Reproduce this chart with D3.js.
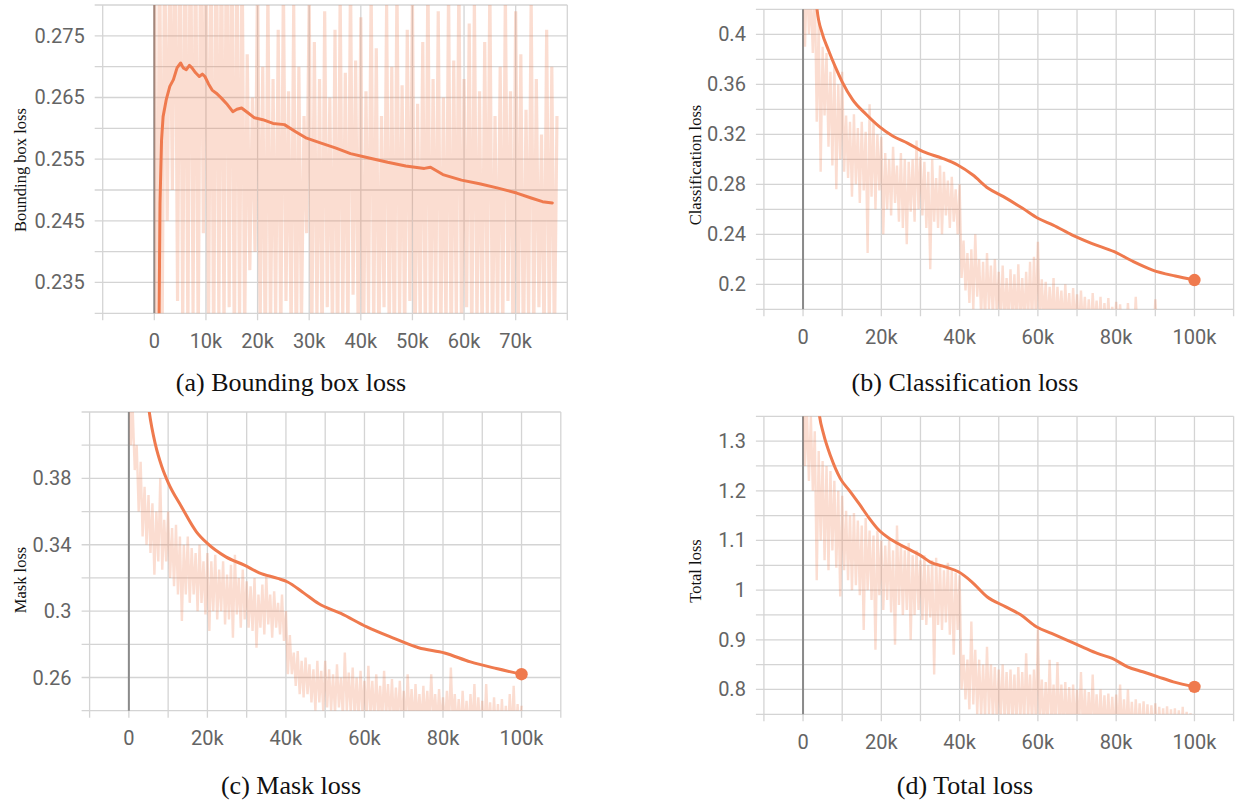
<!DOCTYPE html>
<html>
<head>
<meta charset="utf-8">
<script src="https://cdn.jsdelivr.net/npm/d3@7"></script>
<style>
  html, body { margin: 0; background: #ffffff; }
  svg { display: block; }
</style>
</head>
<body>
<svg id="fig" width="1241" height="803"></svg>
<script>
// ---------------------------------------------------------------
// Training curves: raw values are logged every 500 steps,
// smoothed curves are given as (step, value) pairs.
// ---------------------------------------------------------------

// (a) Bounding box loss
const bboxRawStep = 500;
const bboxRaw = [
  0.300,0.200, 0.295,0.225, 0.292,0.245, 0.288,0.250, 0.300,0.232, 0.296,0.228, 0.298,0.226, 0.302,0.230, 0.294,0.224, 0.297,0.243,
  0.299,0.227, 0.293,0.221, 0.300,0.229, 0.296,0.226, 0.301,0.231, 0.298,0.222, 0.295,0.228, 0.290,0.226, 0.272,0.237, 0.265,0.240,
  0.285,0.228, 0.270,0.222, 0.283,0.226, 0.268,0.229, 0.276,0.224, 0.284,0.232, 0.266,0.226, 0.280,0.221, 0.270,0.228, 0.262,0.243,
  0.281,0.225, 0.274,0.229, 0.268,0.224, 0.279,0.231, 0.265,0.227, 0.276,0.222, 0.282,0.229, 0.269,0.225, 0.285,0.233, 0.271,0.226,
  0.278,0.221, 0.266,0.230, 0.283,0.227, 0.273,0.224, 0.262,0.231, 0.280,0.226, 0.270,0.222, 0.284,0.229, 0.267,0.225, 0.276,0.232,
  0.281,0.224, 0.264,0.228, 0.274,0.226, 0.286,0.223, 0.268,0.230, 0.279,0.225, 0.265,0.227, 0.283,0.222, 0.271,0.229, 0.285,0.226,
  0.268,0.231, 0.277,0.224, 0.281,0.228, 0.266,0.225, 0.274,0.230, 0.284,0.223, 0.262,0.228, 0.270,0.226, 0.282,0.232, 0.266,0.224,
  0.279,0.227, 0.272,0.222, 0.263,0.229, 0.281,0.226, 0.268,0.231, 0.259,0.225, 0.276,0.228, 0.270,0.224, 0.262
];
const bboxSmoothSteps = [800, 1000, 1100, 1400, 1700, 2300, 3000, 3700, 4400, 5100, 5600, 6200, 6800, 7300, 8000, 8700, 9300, 9800,
  10500, 11200, 12000, 13000, 14000, 15200, 16000, 16900, 18000, 19400, 21000, 23000, 25200, 27300, 29500, 32300, 35200, 38000,
  41600, 45200, 48700, 52300, 53500, 55900, 59500, 63000, 66600, 70200, 73000, 75200, 77100];
const bboxSmooth = [0.215, 0.2376, 0.2479, 0.2581, 0.2619, 0.2646, 0.2668, 0.2679, 0.2698, 0.2706, 0.2698, 0.2695, 0.2702, 0.2698,
  0.2690, 0.2684, 0.2688, 0.2684, 0.2672, 0.2662, 0.2657, 0.2649, 0.2640, 0.2627, 0.2631, 0.2633, 0.2626, 0.2617, 0.2614, 0.2608,
  0.2606, 0.2595, 0.2584, 0.2576, 0.2568, 0.2559, 0.2552, 0.2545, 0.2539, 0.2535, 0.2537, 0.2525, 0.2516, 0.2510, 0.2503, 0.2495,
  0.2487, 0.2481, 0.2479];

// (b) Classification loss
const clsRawStep = 500;
const clsRaw = [
  0.620,0.390, 0.450,0.400, 0.430,0.385, 0.440,0.330, 0.410,0.290, 0.390,0.335, 0.385,0.310, 0.370,0.295, 0.375,0.276, 0.360,0.300,
  0.370,0.290, 0.335,0.285, 0.330,0.270, 0.336,0.280, 0.325,0.265, 0.330,0.275, 0.322,0.225, 0.344,0.270, 0.330,0.260, 0.320,0.275,
  0.318,0.240, 0.305,0.260, 0.300,0.255, 0.310,0.265, 0.295,0.250, 0.305,0.245, 0.300,0.232, 0.298,0.258, 0.300,0.250, 0.315,0.260,
  0.302,0.255, 0.298,0.245, 0.290,0.212, 0.300,0.250, 0.285,0.245, 0.295,0.240, 0.290,0.255, 0.283,0.245, 0.286,0.250, 0.276,0.240,
  0.280,0.205, 0.235,0.195, 0.225,0.185, 0.228,0.180, 0.240,0.190, 0.220,0.175, 0.218,0.170, 0.225,0.180, 0.215,0.172, 0.220,0.175,
  0.210,0.170, 0.215,0.168, 0.205,0.170, 0.212,0.172, 0.208,0.165, 0.216,0.170, 0.205,0.168, 0.210,0.172, 0.218,0.165, 0.222,0.170,
  0.234,0.168, 0.204,0.170, 0.202,0.165, 0.198,0.168, 0.205,0.162, 0.198,0.170, 0.195,0.165, 0.200,0.168, 0.193,0.162, 0.197,0.166,
  0.192,0.160, 0.195,0.165, 0.190,0.162, 0.188,0.160, 0.193,0.165, 0.187,0.160, 0.190,0.158, 0.185,0.162, 0.189,0.160, 0.182,0.158,
  0.186,0.160, 0.184,0.158, 0.178,0.155, 0.185,0.160, 0.176,0.155, 0.190,0.158, 0.175,0.155, 0.174,0.152, 0.177,0.155, 0.172,0.150,
  0.188,0.155, 0.170,0.150, 0.172,0.152, 0.168,0.150, 0.170,0.150, 0.166,0.148, 0.170,0.150, 0.167,0.148, 0.169,0.150, 0.165,0.148,
  0.168
];
const clsSmoothSteps = [3000, 3600, 4900, 6400, 8300, 10000, 12700, 16100, 19500, 22900, 26800, 30700, 35600, 39500, 43400, 47300,
  51200, 56100, 60000, 63900, 68800, 73700, 79500, 84400, 89300, 95100, 100000];
const clsSmooth = [0.440, 0.4194, 0.4008, 0.3880, 0.3735, 0.3620, 0.3475, 0.3360, 0.3261, 0.3186, 0.3128, 0.3061, 0.3008, 0.2954,
  0.2874, 0.2768, 0.2701, 0.2608, 0.2528, 0.2474, 0.2394, 0.2328, 0.2261, 0.2181, 0.2114, 0.2066, 0.2034];

// (c) Mask loss
const maskRawStep = 500;
const maskRaw = [
  0.550,0.400, 0.420,0.385, 0.400,0.360, 0.390,0.345, 0.375,0.340, 0.370,0.335, 0.365,0.322, 0.360,0.330, 0.380,0.325, 0.355,0.330,
  0.360,0.320, 0.350,0.315, 0.352,0.310, 0.345,0.294, 0.340,0.310, 0.345,0.305, 0.338,0.310, 0.335,0.300, 0.340,0.305, 0.330,0.298,
  0.335,0.288, 0.330,0.300, 0.334,0.295, 0.325,0.300, 0.330,0.292, 0.322,0.295, 0.328,0.284, 0.334,0.298, 0.320,0.290, 0.325,0.295,
  0.318,0.290, 0.315,0.288, 0.320,0.278, 0.310,0.290, 0.316,0.286, 0.321,0.292, 0.310,0.284, 0.312,0.290, 0.305,0.286, 0.310,0.282,
  0.300,0.262, 0.2856,0.262, 0.275,0.255, 0.276,0.250, 0.270,0.248, 0.272,0.250, 0.268,0.245, 0.265,0.240, 0.270,0.245, 0.264,0.240,
  0.270,0.242, 0.265,0.240, 0.262,0.238, 0.268,0.242, 0.260,0.236, 0.275,0.240, 0.263,0.238, 0.266,0.236, 0.260,0.235, 0.264,0.238,
  0.258,0.235, 0.267,0.236, 0.258,0.234, 0.262,0.236, 0.255,0.232, 0.264,0.236, 0.256,0.234, 0.259,0.232, 0.254,0.233, 0.258,0.232,
  0.252,0.230, 0.262,0.233, 0.253,0.230, 0.256,0.232, 0.250,0.230, 0.255,0.232, 0.252,0.230, 0.262,0.233, 0.250,0.230, 0.253,0.232,
  0.248,0.230, 0.252,0.228, 0.266,0.232, 0.250,0.228, 0.247,0.226, 0.252,0.228, 0.246,0.226, 0.250,0.228, 0.256,0.226, 0.248,0.225,
  0.246,0.224, 0.256,0.226, 0.245,0.224, 0.248,0.225, 0.244,0.222, 0.247,0.224, 0.243,0.222, 0.250,0.224, 0.255,0.222, 0.244,0.222,
  0.243
];
const maskSmoothSteps = [4000, 5200, 6800, 8400, 10100, 13400, 17200, 20000, 24700, 29400, 33200, 37900, 40300, 44500, 48300, 54000,
  60600, 67200, 73800, 80400, 87000, 93600, 100000];
const maskSmooth = [0.445, 0.420, 0.4000, 0.3870, 0.3770, 0.3629, 0.3478, 0.3408, 0.3327, 0.3277, 0.3231, 0.3197, 0.3177, 0.3110,
  0.3046, 0.2986, 0.2905, 0.2839, 0.2779, 0.2748, 0.2694, 0.2654, 0.2620];

// (d) Total loss
const totalRawStep = 500;
const totalRaw = [
  1.600,1.250, 1.360,1.220, 1.350,1.200, 1.320,1.020, 1.280,1.100, 1.260,1.060, 1.250,1.040, 1.240,1.080, 1.220,1.045, 1.200,0.987,
  1.190,1.040, 1.160,1.020, 1.150,1.000, 1.155,1.010, 1.140,0.990, 1.130,0.920, 1.145,1.000, 1.120,0.980, 1.110,0.880, 1.120,0.990,
  1.100,0.960, 1.090,0.980, 1.100,0.955, 1.080,0.890, 1.130,0.970, 1.090,0.950, 1.080,0.960, 1.095,0.900, 1.070,0.950, 1.080,0.960,
  1.060,0.940, 1.070,0.930, 1.050,0.945, 1.060,0.830, 1.065,0.930, 1.050,0.920, 1.040,0.935, 1.055,0.910, 1.040,0.870, 1.035,0.920,
  1.030,0.800, 0.870,0.780, 0.860,0.760, 0.937,0.770, 0.880,0.750, 0.860,0.745, 0.850,0.740, 0.886,0.750, 0.850,0.740, 0.845,0.735,
  0.840,0.740, 0.850,0.735, 0.835,0.730, 0.840,0.735, 0.830,0.730, 0.845,0.735, 0.835,0.730, 0.873,0.740, 0.830,0.730, 0.840,0.728,
  0.920,0.730, 0.820,0.725, 0.815,0.720, 0.860,0.725, 0.810,0.720, 0.855,0.722, 0.810,0.718, 0.815,0.720, 0.805,0.715, 0.810,0.720,
  0.800,0.715, 0.835,0.718, 0.800,0.712, 0.795,0.715, 0.830,0.712, 0.790,0.710, 0.800,0.712, 0.788,0.708, 0.792,0.710, 0.785,0.706,
  0.790,0.708, 0.810,0.705, 0.780,0.704, 0.800,0.705, 0.775,0.700, 0.780,0.702, 0.772,0.700, 0.776,0.700, 0.770,0.698, 0.768,0.696,
  0.772,0.695, 0.765,0.694, 0.762,0.692, 0.766,0.693, 0.760,0.690, 0.762,0.690, 0.758,0.688, 0.765,0.688, 0.755,0.686, 0.752,0.685,
  0.750
];
const totalSmoothSteps = [3500, 4200, 5200, 7100, 9500, 12000, 14400, 16800, 19300, 22700, 26600, 29900, 32400, 36300, 39700, 43100,
  47000, 51800, 55700, 59600, 63500, 67400, 71300, 75200, 79000, 82900, 86800, 90700, 94600, 100000];
const totalSmooth = [1.400, 1.351, 1.3155, 1.2684, 1.2250, 1.1990, 1.1730, 1.1460, 1.1215, 1.1007, 1.0840, 1.0705, 1.0570, 1.0469,
  1.0369, 1.0168, 0.9866, 0.9664, 0.9497, 0.9262, 0.9128, 0.8994, 0.8860, 0.8725, 0.8624, 0.8457, 0.8356, 0.8255, 0.8154, 0.8053];

// Axis ticks: grid lines and the subset that carries labels
const xGridA = [-10000, 0, 10000, 20000, 30000, 40000, 50000, 60000, 70000, 80000];
const xLabelsA = [0, 10000, 20000, 30000, 40000, 50000, 60000, 70000];
const xGrid100k = [-10000, 0, 10000, 20000, 30000, 40000, 50000, 60000, 70000, 80000, 90000, 100000, 110000];
const xLabels100k = [0, 20000, 40000, 60000, 80000, 100000];

const yGridA = [0.23, 0.235, 0.24, 0.245, 0.25, 0.255, 0.26, 0.265, 0.27, 0.275, 0.28];
const yLabelsA = [0.235, 0.245, 0.255, 0.265, 0.275];
const yGridB = [0.18, 0.2, 0.22, 0.24, 0.26, 0.28, 0.3, 0.32, 0.34, 0.36, 0.38, 0.4, 0.42];
const yLabelsB = [0.2, 0.24, 0.28, 0.32, 0.36, 0.4];
const yGridC = [0.24, 0.26, 0.28, 0.3, 0.32, 0.34, 0.36, 0.38, 0.4, 0.42];
const yLabelsC = [0.26, 0.3, 0.34, 0.38];
const yGridD = [0.75, 0.8, 0.85, 0.9, 0.95, 1, 1.05, 1.1, 1.15, 1.2, 1.25, 1.3, 1.35];
const yLabelsD = [0.8, 0.9, 1, 1.1, 1.2, 1.3];

// ---------------------------------------------------------------
const ORANGE = "#ef7a4e";
const GRID = "#d4d4d4";
const TICK_TEXT = "#646464";

const panels = [
  { id: "a", raw: bboxRaw, rawStep: bboxRawStep, sSteps: bboxSmoothSteps, sVals: bboxSmooth,
    xGrid: xGridA, xLabels: xLabelsA, yGrid: yGridA, yLabels: yLabelsA,
    xDom: [-10000, 80000], xR: [102.7, 567.3], yDom: [0.23, 0.28], yR: [313.3, 5],
    title: "Bounding box loss", titleX: 20, titleY: 170, rawWidth: 3.2,
    caption: "(a) Bounding box loss", capX: 291, capY: 391, dot: false, curve: d3.curveLinear },
  { id: "b", raw: clsRaw, rawStep: clsRawStep, sSteps: clsSmoothSteps, sVals: clsSmooth,
    xGrid: xGrid100k, xLabels: xLabels100k, yGrid: yGridB, yLabels: yLabelsB,
    xDom: [-10000, 110000], xR: [763.9, 1233.6], yDom: [0.18, 0.42], yR: [309.3, 9.3],
    title: "Classification loss", titleX: 695, titleY: 165, rawWidth: 2.4,
    caption: "(b) Classification loss", capX: 965, capY: 391, dot: true, curve: d3.curveMonotoneX },
  { id: "c", raw: maskRaw, rawStep: maskRawStep, sSteps: maskSmoothSteps, sVals: maskSmooth,
    xGrid: xGrid100k, xLabels: xLabels100k, yGrid: yGridC, yLabels: yLabelsC,
    xDom: [-10000, 110000], xR: [89.6, 560.8], yDom: [0.24, 0.42], yR: [710.7, 412],
    title: "Mask loss", titleX: 20, titleY: 580, rawWidth: 2.4,
    caption: "(c) Mask loss", capX: 291, capY: 794, dot: true, curve: d3.curveMonotoneX },
  { id: "d", raw: totalRaw, rawStep: totalRawStep, sSteps: totalSmoothSteps, sVals: totalSmooth,
    xGrid: xGrid100k, xLabels: xLabels100k, yGrid: yGridD, yLabels: yLabelsD,
    xDom: [-10000, 110000], xR: [763.9, 1233.6], yDom: [0.75, 1.35], yR: [714.3, 416.3],
    title: "Total loss", titleX: 695, titleY: 571, rawWidth: 2.4,
    caption: "(d) Total loss", capX: 965, capY: 794, dot: true, curve: d3.curveMonotoneX }
];

const svg = d3.select("#fig");
const defs = svg.append("defs");
const fmtX = d3.format("~s");
const fmtY = d3.format("~g");

panels.forEach(p => {
  const x = d3.scaleLinear().domain(p.xDom).range(p.xR);
  const y = d3.scaleLinear().domain(p.yDom).range(p.yR);
  const g = svg.append("g").attr("class", "panel-" + p.id);

  const clipId = "clip-" + p.id;
  defs.append("clipPath").attr("id", clipId)
    .append("rect")
    .attr("x", p.xR[0]).attr("y", p.yR[1])
    .attr("width", p.xR[1] - p.xR[0]).attr("height", p.yR[0] - p.yR[1]);

  // horizontal grid lines, extending left as ticks
  g.append("g").selectAll("line").data(p.yGrid).join("line")
    .attr("x1", p.xR[0] - 8).attr("x2", p.xR[1])
    .attr("y1", d => y(d)).attr("y2", d => y(d))
    .attr("stroke", GRID).attr("stroke-width", 1.3);

  // vertical grid lines, extending below as ticks
  g.append("g").selectAll("line").data(p.xGrid).join("line")
    .attr("x1", d => x(d)).attr("x2", d => x(d))
    .attr("y1", p.yR[1]).attr("y2", p.yR[0] + 7)
    .attr("stroke", GRID).attr("stroke-width", 1.3);

  // darker zero-step line
  g.append("line")
    .attr("x1", x(0)).attr("x2", x(0))
    .attr("y1", p.yR[1]).attr("y2", p.yR[0])
    .attr("stroke", "#8a8a8a").attr("stroke-width", 2);

  // raw (unsmoothed) values
  const plot = g.append("g").attr("clip-path", `url(#${clipId})`);
  plot.append("path")
    .datum(p.raw)
    .attr("fill", "none")
    .attr("stroke", ORANGE)
    .attr("stroke-opacity", 0.26)
    .attr("stroke-width", p.rawWidth)
    .attr("stroke-linejoin", "bevel")
    .attr("d", d3.line().x((d, i) => x(i * p.rawStep)).y(d => y(d)));

  // smoothed curve
  const sData = p.sSteps.map((s, i) => [s, p.sVals[i]]);
  plot.append("path")
    .datum(sData)
    .attr("fill", "none")
    .attr("stroke", ORANGE)
    .attr("stroke-width", 3)
    .attr("stroke-linejoin", "round")
    .attr("stroke-linecap", "round")
    .attr("d", d3.line().curve(p.curve).x(d => x(d[0])).y(d => y(d[1])));

  if (p.dot) {
    const last = sData[sData.length - 1];
    g.append("circle")
      .attr("cx", x(last[0])).attr("cy", y(last[1]))
      .attr("r", 6.2).attr("fill", ORANGE);
  }

  // tick labels
  g.append("g").selectAll("text").data(p.yLabels).join("text")
    .attr("x", p.xR[0] - 18).attr("y", d => y(d))
    .attr("text-anchor", "end").attr("dominant-baseline", "central")
    .attr("font-family", "Roboto, 'Noto Sans', sans-serif")
    .attr("font-size", 20).attr("fill", TICK_TEXT)
    .text(d => fmtY(d));

  g.append("g").selectAll("text").data(p.xLabels).join("text")
    .attr("x", d => x(d)).attr("y", p.yR[0] + 27.5)
    .attr("text-anchor", "middle").attr("dominant-baseline", "central")
    .attr("font-family", "Roboto, 'Noto Sans', sans-serif")
    .attr("font-size", 20).attr("fill", TICK_TEXT)
    .text(d => fmtX(d));

  // axis title
  g.append("text")
    .attr("transform", `translate(${p.titleX},${p.titleY}) rotate(-90)`)
    .attr("text-anchor", "middle").attr("dominant-baseline", "central")
    .attr("font-family", "'Liberation Serif', 'Times New Roman', serif")
    .attr("font-size", 16.5).attr("fill", "#111")
    .text(p.title);

  // sub-figure caption
  g.append("text")
    .attr("x", p.capX).attr("y", p.capY)
    .attr("text-anchor", "middle")
    .attr("font-family", "'Liberation Serif', 'Times New Roman', serif")
    .attr("font-size", 26).attr("fill", "#111")
    .text(p.caption);
});
</script>
</body>
</html>
